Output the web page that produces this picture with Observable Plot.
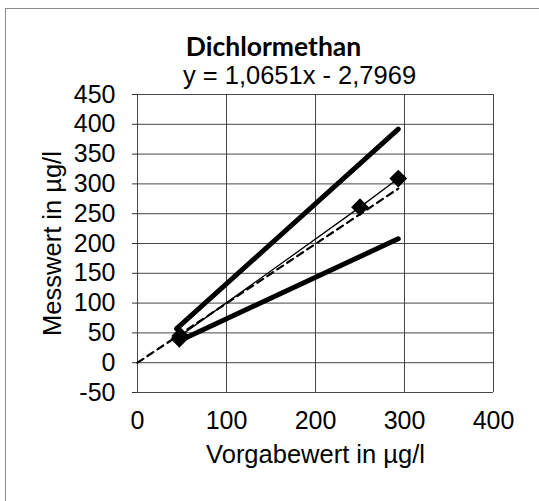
<!DOCTYPE html>
<html><head><meta charset="utf-8">
<script src="https://cdn.jsdelivr.net/npm/d3@7"></script>
<script src="https://cdn.jsdelivr.net/npm/@observablehq/plot@0.6"></script>
<style>
html,body{margin:0;padding:0;background:#fff;}
#wrap{position:relative;width:539px;height:501px;overflow:hidden;}
#border{position:absolute;left:5px;top:8px;width:600px;height:600px;border-top:1px solid #8a8a8a;border-left:1px solid #8a8a8a;pointer-events:none;}
#chart{position:absolute;left:0;top:0;}
</style></head><body><div id="wrap"><div id="chart"></div><div id="border"></div></div>
<script>
// data
const vorgabe = [47, 48, 250, 293];
const messwert = [40, 45, 261, 309];
const upperX = [44, 293];
const upperY = [57, 392];
const lowerX = [46, 293];
const lowerY = [36, 208];
const identX = [0, 293];
const identY = [0, 292];
const xTicks = [0, 100, 200, 300, 400];
const yTicks = [-50, 0, 50, 100, 150, 200, 250, 300, 350, 400, 450];
const title = "Dichlormethan";
const subtitle = "y = 1,0651x - 2,7969";
const xLabel = "Vorgabewert in µg/l";
const yLabel = "Messwert in µg/l";

const pts = vorgabe.map((v, i) => ({x: v, y: messwert[i]}));
const upper = upperX.map((v, i) => ({x: v, y: upperY[i]}));
const lower = lowerX.map((v, i) => ({x: v, y: lowerY[i]}));
const ident = identX.map((v, i) => ({x: v, y: identY[i]}));

const font = "'Liberation Sans', Arial, sans-serif";
const chart = Plot.plot({
  width: 539, height: 501,
  marginLeft: 137, marginRight: 46, marginTop: 94, marginBottom: 109,
  style: {fontFamily: font, fontSize: "25px", color: "#000", background: "transparent", overflow: "visible"},
  x: {domain: [0, 400], ticks: xTicks},
  y: {domain: [-50, 450], ticks: yTicks},
  marks: [
    Plot.gridX(xTicks, {stroke: "#333", strokeOpacity: 0.9, strokeWidth: 1}),
    Plot.gridY(yTicks, {stroke: "#333", strokeOpacity: 0.9, strokeWidth: 1}),
    Plot.axisX(xTicks, {tickSize: 0, tickPadding: 19, label: null, fontSize: 25, tickFormat: d => String(d)}),
    Plot.axisY(yTicks, {tickSize: 5, tickPadding: 17, label: null, fontSize: 25, stroke: "#333", tickFormat: d => String(d)}),
    Plot.line(ident, {x: "x", y: "y", stroke: "#000", strokeWidth: 2.2, strokeDasharray: "7,5"}),
    Plot.line(pts, {x: "x", y: "y", stroke: "#000", strokeWidth: 1.3}),
    Plot.line(upper, {x: "x", y: "y", stroke: "#000", strokeWidth: 5, strokeLinecap: "round"}),
    Plot.line(lower, {x: "x", y: "y", stroke: "#000", strokeWidth: 5, strokeLinecap: "round"}),
    Plot.dot(pts, {x: "x", y: "y", symbol: "diamond2", r: 8, fill: "#000"}),
    Plot.text([title], {frameAnchor: "top", lineAnchor: "middle", textAnchor: "middle", dx: -42, dy: -47, fontFamily: "Lato, 'Open Sans', sans-serif", fontWeight: "bold", fontSize: 26.5, fill: "#000"}),
    Plot.text([subtitle], {frameAnchor: "top", lineAnchor: "middle", textAnchor: "middle", dx: -16, dy: -19, fontSize: 25.5, fill: "#000"}),
    Plot.text([xLabel], {frameAnchor: "bottom", lineAnchor: "middle", textAnchor: "middle", dy: 62, fontSize: 25.5, fill: "#000"}),
    Plot.text([yLabel], {frameAnchor: "left", lineAnchor: "middle", textAnchor: "middle", rotate: -90, dx: -85, fontSize: 25.5, fill: "#000"})
  ]
});
document.getElementById("chart").appendChild(chart);
</script>
</body></html>
